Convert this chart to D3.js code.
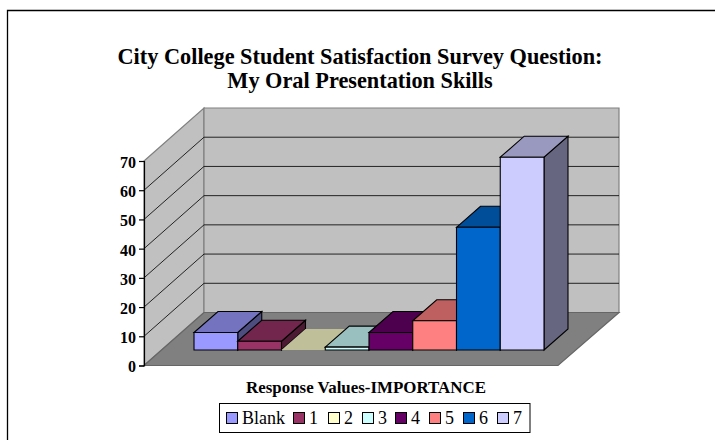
<!DOCTYPE html>
<html><head><meta charset="utf-8"><style>html,body{margin:0;padding:0;background:#fff}svg{display:block}text{font-family:"Liberation Serif","Times New Roman",serif;fill:#000}</style>
<script src="https://cdn.jsdelivr.net/npm/d3@7"></script></head><body><script>
const categories=["Blank","1","2","3","4","5","6","7"];
const values=[6,3,0,1,6,10,42,66];
const colors=["#9999FF","#993366","#FFFFCC","#CCFFFF","#660066","#FF8080","#0066CC","#CCCCFF"];
const yTicks=[0,10,20,30,40,50,60,70];
const titleLines=["City College Student Satisfaction Survey Question:","My Oral Presentation Skills"];
const xTitle="Response Values-IMPORTANCE";

const svg=d3.select("body").append("svg").attr("width",715).attr("height",440);
svg.append("path").attr("d","M7.5,440V10.5H715").attr("fill","none").attr("stroke","#000").attr("stroke-width",1.3);
titleLines.forEach((t,i)=>svg.append("text").attr("x",360).attr("y",[64,88][i]).attr("text-anchor","middle").attr("font-size",22.3).attr("font-weight","bold").text(t));

const y=d3.scaleLinear().domain([0,70]).range([365.5,161]);
const x=d3.scaleBand().domain(categories).range([194,544]).padding(0);
const D=[60,-53], d=[24,-21], base=350;
const h=v=>y(0)-y(v);
const poly=(pts,fill,stroke,sw)=>svg.append("polygon").attr("points",pts.map(p=>p.join(",")).join(" ")).attr("fill",fill).attr("stroke",stroke).attr("stroke-width",sw).attr("stroke-linejoin","miter");
const x0=144,x1=558,yTop=y(70);
poly([[x0,yTop],[x0+D[0],yTop+D[1]],[x0+D[0],y(0)+D[1]],[x0,y(0)]],"#C0C0C0","#808080",1.2);
poly([[x0+D[0],yTop+D[1]],[x1+D[0]+1,yTop+D[1]],[x1+D[0]+1,y(0)+D[1]],[x0+D[0],y(0)+D[1]]],"#C0C0C0","#808080",1.2);
poly([[x0,y(0)],[x0+D[0],y(0)+D[1]],[x1+D[0]+1,y(0)+D[1]],[x1,y(0)]],"#808080","#666",1.2);
yTicks.slice(1,-1).forEach(t=>{
  svg.append("path").attr("d",`M${x0},${y(t)}L${x0+D[0]},${y(t)+D[1]}H${x1+D[0]+1}`).attr("fill","none").attr("stroke","#111").attr("stroke-width",.9);
});
const shade=(c,k)=>{const r=d3.rgb(c);return d3.rgb(r.r*k,r.g*k,r.b*k).formatHex()};
categories.forEach((c,i)=>{
  const l=x(c),r=l+x.bandwidth(),b=base,t=base-h(values[i]),f=colors[i],s=1.1,k="#000";
  if(values[i]>0){
    poly([[r,b],[r+d[0],b+d[1]],[r+d[0],t+d[1]],[r,t]],shade(f,.5),k,s);
  }
  poly([[l,t],[l+d[0],t+d[1]],[r+d[0],t+d[1]],[r,t]],shade(f,.75),values[i]>0?k:"none",s);
  if(values[i]>0) poly([[l,t],[r,t],[r,b],[l,b]],f,k,s);
});
const axis=d3.axisLeft(y).tickValues(yTicks).tickSize(5).tickPadding(3).tickFormat(d3.format("d"));
const ag=svg.append("g").attr("transform",`translate(${x0},0)`).call(axis);
ag.selectAll("line,path").attr("stroke","#000").attr("stroke-width",1.2);
ag.selectAll("text").attr("font-size",16).attr("font-weight","bold").attr("dy","0.4em").style("font-family",'"Liberation Serif",serif');
svg.append("text").attr("x",366).attr("y",393).attr("text-anchor","middle").attr("font-size",16.9).attr("font-weight","bold").text(xTitle);
const lg=svg.append("g");
lg.append("rect").attr("x",219.5).attr("y",403.5).attr("width",310.5).attr("height",29).attr("fill","#fff").attr("stroke","#000").attr("stroke-width",1);
const lx=[226,293,328,362,395,429,463,497];
categories.forEach((c,i)=>{
  lg.append("rect").attr("x",lx[i]+.5).attr("y",412.5).attr("width",11).attr("height",11).attr("fill",colors[i]).attr("stroke","#000");
  lg.append("text").attr("x",lx[i]+16).attr("y",424).attr("font-size",18).text(c);
});
</script></body></html>
